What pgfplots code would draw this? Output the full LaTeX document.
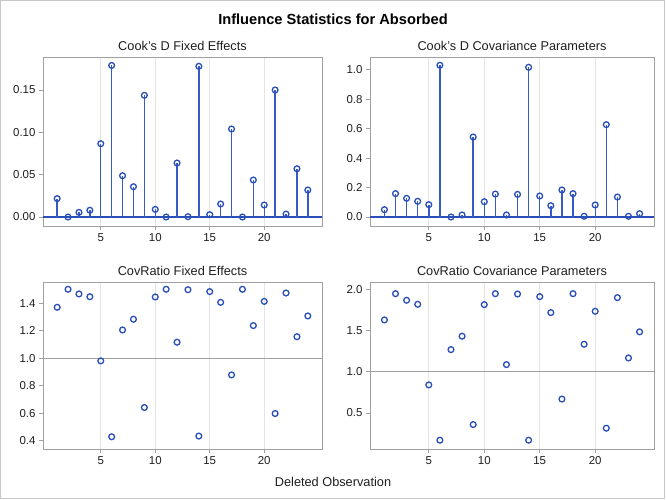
\documentclass[border=0pt]{standalone}
\usepackage{pgfplots}
\pgfplotsset{compat=1.18}
\usepackage{fontspec}
\setmainfont{Liberation Sans}
\definecolor{sasblue}{RGB}{40,78,185}
\definecolor{stemblue}{RGB}{55,90,195}
\definecolor{framegray}{RGB}{160,160,160}
\definecolor{gridgray}{RGB}{228,228,228}
\definecolor{txt}{RGB}{30,30,30}
\pgfplotstableread{
x cdf cdc crf crc
1 0.0217 0.050 1.371 1.632
2 0.0000 0.159 1.502 1.951
3 0.0055 0.127 1.468 1.871
4 0.0080 0.107 1.448 1.822
5 0.0866 0.084 0.981 0.842
6 0.1790 1.032 0.429 0.170
7 0.0488 0.000 1.206 1.271
8 0.0358 0.014 1.284 1.434
9 0.1437 0.544 0.642 0.360
10 0.0090 0.104 1.446 1.818
11 0.0000 0.156 1.502 1.951
12 0.0638 0.014 1.117 1.089
13 0.0004 0.154 1.499 1.947
14 0.1780 1.018 0.434 0.170
15 0.0028 0.143 1.485 1.915
16 0.0154 0.077 1.407 1.721
17 0.1040 0.184 0.879 0.670
18 0.0000 0.159 1.502 1.951
19 0.0437 0.005 1.238 1.336
20 0.0142 0.082 1.414 1.737
21 0.1500 0.628 0.598 0.316
22 0.0035 0.136 1.475 1.903
23 0.0570 0.005 1.157 1.170
24 0.0319 0.023 1.308 1.487
}\datatable
\pgfplotsset{
  panel/.style={
    scale only axis,
    anchor=south west,
    xmin=-0.3, xmax=25.3,
    xtick={5,10,15,20},
    tick pos=left,
    tick align=outside,
    major tick length=4bp,
    axis line style={framegray, line width=0.9bp},
    every tick/.style={framegray, line width=0.9bp},
    xmajorgrids,
    x grid style={gridgray, line width=0.9bp},
    ticklabel style={font=\fontsize{11.5}{12}\selectfont, text=txt},
    /pgf/number format/assume math mode=true,
    clip=true,
  },
  stems/.style={
    ycomb, draw=stemblue, line width=1.4bp,
    mark=o, mark size=2.9bp,
    mark options={draw=sasblue, fill=white, line width=1.3bp, solid},
  },
  pts/.style={
    only marks, mark=o, mark size=2.9bp,
    mark options={draw=sasblue, line width=1.3bp},
  },
}
\begin{document}
\begin{tikzpicture}
\path[use as bounding box] (0bp,0bp) rectangle (666bp,500bp);
\draw[color={rgb,255:red,200;green,200;blue,200}, line width=1bp] (0.5bp,1.3bp) rectangle (664.3bp,499.5bp);
\node[font=\bfseries\fontsize{14.7}{16}\selectfont, text=black] at (333bp,481bp) {Influence Statistics for Absorbed};
% Panel 1
\begin{axis}[panel, at={(43bp,274bp)}, width=279bp, height=169bp,
  ymin=-0.0106, ymax=0.189, ytick={0,0.05,0.1,0.15},
  yticklabel style={/pgf/number format/.cd, fixed, fixed zerofill, precision=2}]
\addplot[sasblue, line width=1.3bp, forget plot] coordinates {(-0.3,0) (25.3,0)};
\addplot[stems] table[x=x, y=cdf] {\datatable};
\end{axis}
% Panel 2
\begin{axis}[panel, at={(370bp,274bp)}, width=284bp, height=169bp,
  ymin=-0.061, ymax=1.088, ytick={0,0.2,0.4,0.6,0.8,1.0},
  yticklabel style={/pgf/number format/.cd, fixed, fixed zerofill, precision=1}]
\addplot[sasblue, line width=1.3bp, forget plot] coordinates {(-0.3,0) (25.3,0)};
\addplot[stems] table[x=x, y=cdc] {\datatable};
\end{axis}
% Panel 3
\begin{axis}[panel, at={(43bp,51bp)}, width=279bp, height=167bp,
  ymin=0.34, ymax=1.555, ytick={0.4,0.6,0.8,1.0,1.2,1.4},
  yticklabel style={/pgf/number format/.cd, fixed, fixed zerofill, precision=1}]
\addplot[framegray, line width=0.9bp, forget plot] coordinates {(-0.3,1) (25.3,1)};
\addplot[pts] table[x=x, y=crf] {\datatable};
\end{axis}
% Panel 4
\begin{axis}[panel, at={(370bp,51bp)}, width=284bp, height=167bp,
  ymin=0.063, ymax=2.093, ytick={0.5,1.0,1.5,2.0},
  yticklabel style={/pgf/number format/.cd, fixed, fixed zerofill, precision=1}]
\addplot[framegray, line width=0.9bp, forget plot] coordinates {(-0.3,1) (25.3,1)};
\addplot[pts] table[x=x, y=crc] {\datatable};
\end{axis}
\node[font=\fontsize{12.8}{14}\selectfont, text=txt] at (182.5bp,454.5bp) {Cook's D Fixed Effects};
\node[font=\fontsize{12.8}{14}\selectfont, text=txt] at (512bp,454.5bp) {Cook's D Covariance Parameters};
\node[font=\fontsize{12.8}{14}\selectfont, text=txt] at (182.5bp,229.5bp) {CovRatio Fixed Effects};
\node[font=\fontsize{12.8}{14}\selectfont, text=txt] at (512bp,229.5bp) {CovRatio Covariance Parameters};
\node[font=\fontsize{12.8}{14}\selectfont, text=txt] at (333bp,18bp) {Deleted Observation};
\end{tikzpicture}
\end{document}
